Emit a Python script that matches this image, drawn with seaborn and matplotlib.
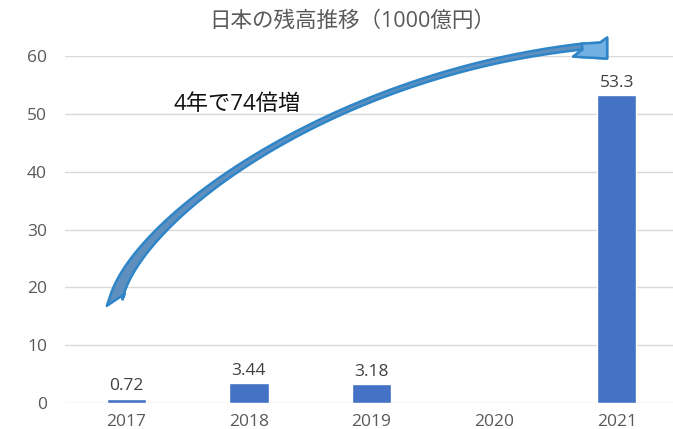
import numpy as np
import pandas as pd
import matplotlib
matplotlib.use("Agg")
import matplotlib.pyplot as plt
import seaborn as sns
from matplotlib.patches import Polygon
from matplotlib.transforms import IdentityTransform

# Balance per year (units of 100 billion yen); no figure for 2020
years = ["2017", "2018", "2019", "2020", "2021"]
balance = [0.72, 3.44, 3.18, np.nan, 53.3]
y_ticks = [0, 10, 20, 30, 40, 50, 60]
title = "日本の残高推移（1000億円）"
note = "4年で74倍増"

sns.set_theme(style="white")
plt.rcParams["font.family"] = ["Open Sans", "Noto Sans CJK JP", "DejaVu Sans"]

W, H = 673, 429
fig = plt.figure(figsize=(W / 100, H / 100), dpi=100)
ax = fig.add_axes([65 / W, 26.3 / H, 613 / W, 346.4 / H])

df = pd.DataFrame({"year": years, "balance": balance})
sns.barplot(data=df, x="year", y="balance", order=years, color="#4472C4",
            saturation=1, width=0.32, ax=ax, zorder=2)

ax.set_xlim(-0.5, 4.5)
ax.set_ylim(0, 60)
ax.set_yticks(y_ticks)
ax.set_xlabel("")
ax.set_ylabel("")
ax.yaxis.grid(True, color="#D9D9D9", lw=1)
ax.set_axisbelow(True)
for s in ax.spines.values():
    s.set_visible(False)
ax.tick_params(axis="both", length=0, labelsize=12.5, labelcolor="#595959")
ax.tick_params(axis="y", pad=13)
ax.tick_params(axis="x", pad=8)

for c in ax.containers:
    ax.bar_label(c, fmt="{:g}", padding=3, fontsize=12.5, color="#404040")

fig.text(352 / W, 1 - 21 / H, title, ha="center", va="center",
         fontsize=15.5, color="#595959")
ax.text(0.902, 51.6, note, ha="center", va="center", fontsize=16,
        color="#111111")


def curved_arrow(ax, ctrl, tail_cut, head, widths):
    """Tapered block arrow along a cubic Bezier given in data units."""
    T = ax.transData
    P = T.transform(np.array(ctrl))
    t = np.linspace(0, 1, 120)[:, None]
    B = ((1 - t) ** 3) * P[0] + 3 * ((1 - t) ** 2) * t * P[1] \
        + 3 * (1 - t) * t ** 2 * P[2] + t ** 3 * P[3]
    D = 3 * ((1 - t) ** 2) * (P[1] - P[0]) + 6 * (1 - t) * t * (P[2] - P[1]) \
        + 3 * t ** 2 * (P[3] - P[2])
    N = np.column_stack([-D[:, 1], D[:, 0]])
    N /= np.linalg.norm(N, axis=1)[:, None]
    tt = t[:, 0]
    w0, wm, w1 = widths
    half = (w0 * (1 - tt) ** 2 + 2 * wm * tt * (1 - tt) + w1 * tt ** 2) / 2
    upper = B + N * half[:, None]
    lower = B - N * half[:, None]
    cut = T.transform(np.array(tail_cut))
    upper[0] = cut[0]
    lower[0] = cut[1]
    hd = T.transform(np.array(head))
    body = np.vstack([upper, hd, lower[::-1]])
    ax.add_patch(Polygon(body, closed=True, transform=IdentityTransform(),
                         facecolor="#5E8FBF", edgecolor="#2E86C8", lw=1.8,
                         joinstyle="round", clip_on=False, zorder=4))
    tip = np.vstack([upper[-1], hd, lower[-1]])
    ax.add_patch(Polygon(tip, closed=True, transform=IdentityTransform(),
                         facecolor="#72B0E2", edgecolor="#2E86C8", lw=1.8,
                         joinstyle="round", clip_on=False, zorder=5))


fig.canvas.draw()
curved_arrow(
    ax,
    ctrl=[(-0.086, 17.81), (0.069, 31.68), (1.661, 56.83), (3.718, 61.68)],
    tail_cut=[(-0.159, 16.77), (-0.012, 18.85)],
    head=[(3.865, 62.37), (3.922, 63.24), (3.922, 59.6), (3.645, 59.95)],
    widths=(13, 1.2, 6),
)

fig.savefig("out.png", dpi=100)
